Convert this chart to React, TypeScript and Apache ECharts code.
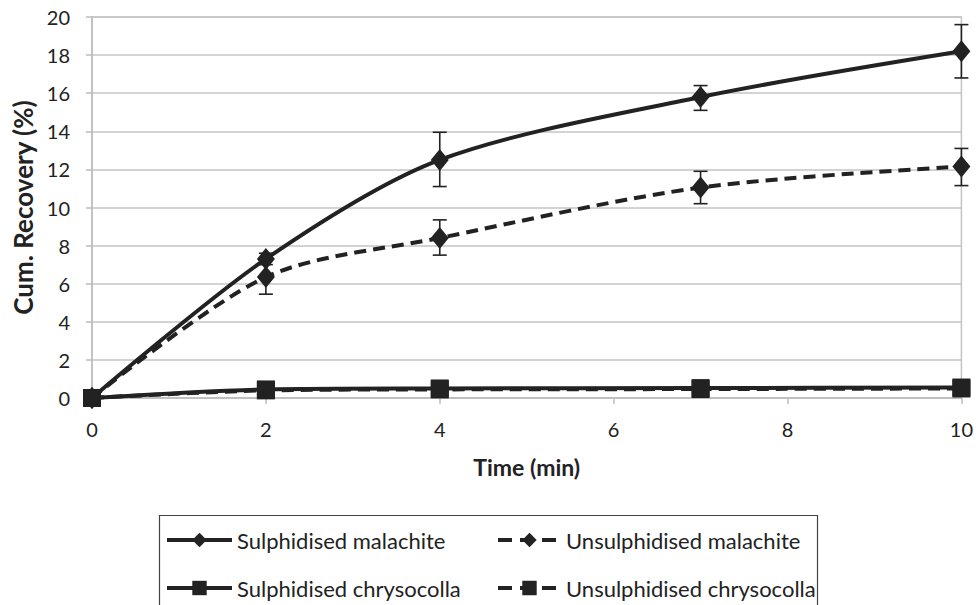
import React, { useEffect, useRef } from "react";
import * as echarts from "echarts";

const timeMin = [0, 2, 4, 7, 10];
const sulphMalachite = [0, 7.3, 12.5, 15.8, 18.2];
const unsulphMalachite = [0, 6.35, 8.4, 11.05, 12.15];
const sulphChrysocolla = [0, 0.45, 0.5, 0.52, 0.55];
const unsulphChrysocolla = [0, 0.4, 0.45, 0.47, 0.5];

const errTime = [2, 4, 7, 10];
const sulphMalLow = [7.0, 11.1, 15.1, 16.8];
const sulphMalHigh = [7.6, 13.95, 16.4, 19.6];
const unsulphMalLow = [5.45, 7.5, 10.2, 11.15];
const unsulphMalHigh = [7.2, 9.35, 11.9, 13.1];

const yTicks = [0, 2, 4, 6, 8, 10, 12, 14, 16, 18, 20];
const xTicks = [0, 2, 4, 6, 8, 10];

const names = [
  "Sulphidised malachite",
  "Unsulphidised malachite",
  "Sulphidised chrysocolla",
  "Unsulphidised chrysocolla",
];

const INK = "#222222";
const FONT = "Lato, 'Open Sans', sans-serif";

function pairs(xs: number[], ys: number[]) {
  return xs.map((x, i) => [x, ys[i]]);
}

function errData(xs: number[], lo: number[], hi: number[]) {
  return xs.map((x, i) => [x, lo[i], hi[i]]);
}

const renderErr = (params: any, api: any) => {
  const x = api.value(0);
  const pLo = api.coord([x, api.value(1)]);
  const pHi = api.coord([x, api.value(2)]);
  const w = 7;
  const style = { stroke: INK, lineWidth: 1.6 };
  return {
    type: "group",
    children: [
      { type: "line", shape: { x1: pLo[0], y1: pLo[1], x2: pHi[0], y2: pHi[1] }, style },
      { type: "line", shape: { x1: pLo[0] - w, y1: pLo[1], x2: pLo[0] + w, y2: pLo[1] }, style },
      { type: "line", shape: { x1: pHi[0] - w, y1: pHi[1], x2: pHi[0] + w, y2: pHi[1] }, style },
    ],
  };
};

export default function App() {
  const ref = useRef<HTMLDivElement>(null);
  useEffect(() => {
    document.body.style.margin = "0";
    if (!ref.current) return;
    const chart = echarts.init(ref.current, null, { renderer: "svg" });
    const lineBase = (name: string, data: number[], dashed: boolean, symbol: string, size: any) => ({
      name,
      type: "line",
      data: pairs(timeMin, data),
      smooth: 0.3,
      symbol,
      symbolSize: size,
      z: 3,
      lineStyle: { color: INK, width: 4, type: dashed ? [12, 7] : "solid" },
      itemStyle: { color: INK },
    });
    const legendItem = (name: string, left: number, top: number, w: number, dashed: boolean) => ({
      data: [name],
      left,
      top,
      padding: 0,
      itemWidth: w,
      itemHeight: 18,
      itemGap: 0,
      lineStyle: { width: 4, color: INK, type: dashed ? [14, 8] : "solid" },
      textStyle: { fontSize: 22, color: INK, fontFamily: FONT },
    });
    chart.setOption({
      animation: false,
      backgroundColor: "#ffffff",
      grid: {
        left: 92,
        right: 14,
        top: 17,
        bottom: 207,
        show: true,
        borderColor: "#c4c4c4",
        borderWidth: 1.5,
        backgroundColor: "transparent",
      },
      xAxis: {
        type: "value",
        min: 0,
        max: 10,
        interval: 2,
        name: "Time (min)",
        nameLocation: "middle",
        nameGap: 57,
        nameTextStyle: { fontSize: 23, fontWeight: "bold", color: INK, fontFamily: FONT },
        axisLine: { show: true, lineStyle: { color: "#bdbdbd", width: 1.5 } },
        axisTick: { show: true, length: 6, lineStyle: { color: "#bdbdbd", width: 1.5 } },
        axisLabel: {
          fontSize: 20,
          color: INK,
          fontFamily: FONT,
          margin: 21,
          formatter: (v: number) => (xTicks.includes(v) ? String(v) : ""),
        },
        splitLine: { show: false },
      },
      yAxis: {
        type: "value",
        min: 0,
        max: 20,
        interval: 2,
        name: "Cum. Recovery (%)",
        nameLocation: "middle",
        nameGap: 56,
        nameTextStyle: { fontSize: 26, fontWeight: "bold", color: INK, fontFamily: FONT },
        axisLine: { show: true, lineStyle: { color: "#bdbdbd", width: 1.5 } },
        axisTick: { show: true, length: 6, lineStyle: { color: "#bdbdbd", width: 1.5 } },
        axisLabel: {
          fontSize: 20,
          color: INK,
          fontFamily: FONT,
          margin: 22,
          formatter: (v: number) => (yTicks.includes(v) ? String(v) : ""),
        },
        splitLine: { show: true, lineStyle: { color: "#c4c4c4", width: 1.5 } },
      },
      legend: [
        legendItem(names[0], 165, 529, 65, false),
        legendItem(names[1], 496, 529, 63, true),
        legendItem(names[2], 165, 577, 65, false),
        legendItem(names[3], 496, 577, 63, true),
      ],
      graphic: [
        {
          type: "rect",
          left: 157,
          top: 513,
          shape: { width: 658, height: 90 },
          style: { fill: "none", stroke: "#444444", lineWidth: 1.2 },
        },
      ],
      series: [
        {
          type: "custom",
          renderItem: renderErr,
          data: errData(errTime, unsulphMalLow, unsulphMalHigh),
          encode: { x: 0, y: [1, 2] },
          z: 2,
          silent: true,
        },
        {
          type: "custom",
          renderItem: renderErr,
          data: errData(errTime, sulphMalLow, sulphMalHigh),
          encode: { x: 0, y: [1, 2] },
          z: 2,
          silent: true,
        },
        lineBase(names[3], unsulphChrysocolla, true, "rect", 18),
        lineBase(names[2], sulphChrysocolla, false, "rect", 18),
        lineBase(names[1], unsulphMalachite, true, "diamond", [18, 22]),
        lineBase(names[0], sulphMalachite, false, "diamond", [18, 22]),
      ],
    });
    return () => chart.dispose();
  }, []);
  return <div ref={ref} style={{ width: 976, height: 605 }} />;
}
